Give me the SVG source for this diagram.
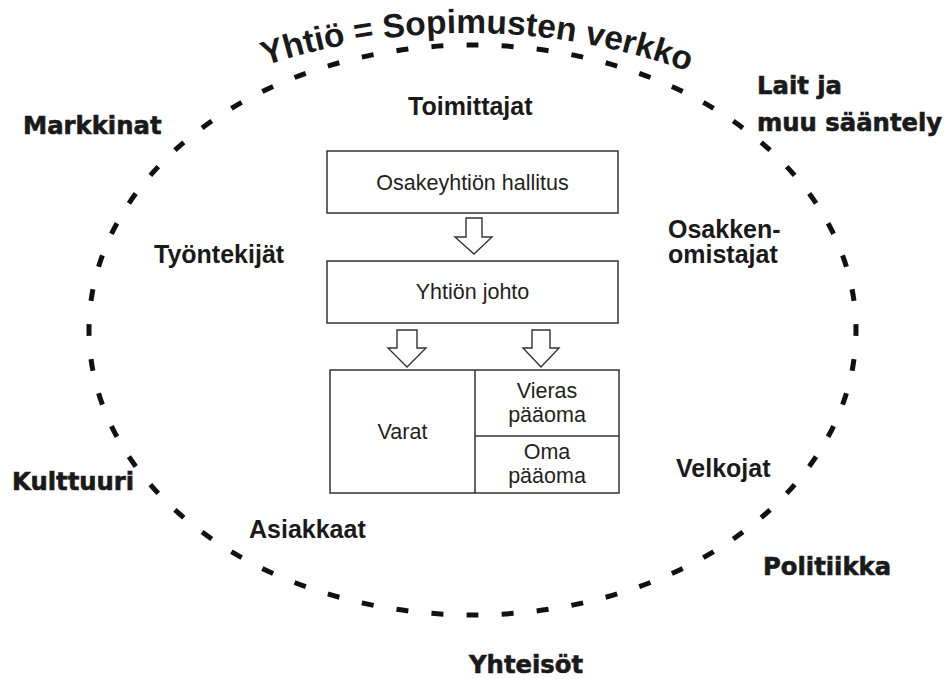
<svg xmlns="http://www.w3.org/2000/svg" width="947" height="679" viewBox="0 0 947 679">
<style>
.outer{font-family:"DejaVu Sans","Liberation Sans",sans-serif;font-weight:bold;font-size:24.3px;fill:#1a1a1a;stroke:#1a1a1a;stroke-width:0.6px}
.inner{font-family:"Liberation Sans",Arial,sans-serif;font-weight:bold;font-size:25px;fill:#1a1a1a}
.box{fill:#fff;stroke:#333;stroke-width:1.5}
.btxt{font-family:"Liberation Sans",Arial,sans-serif;font-size:21.5px;fill:#231f20;text-anchor:middle}
.arrow{fill:#fff;stroke:#333;stroke-width:1.4;stroke-linejoin:miter}
.title{font-family:"Liberation Sans",Arial,sans-serif;font-weight:bold;font-size:33.5px;fill:#1a1a1a}
</style>
<defs>
<path id="titleArc" d="M168,106.4 A650,650 0 0 1 768,106.4"/>
</defs>
<rect width="947" height="679" fill="#fff"/>
<g id="boundary">
<path d="M472.5,45 A383.5,285 0 1 1 472.5,615 A383.5,285 0 1 1 472.5,45 Z" pathLength="600" fill="none" stroke="#111" stroke-width="5" stroke-dasharray="3.4 6.6" stroke-dashoffset="1.7"/>
</g>
<g id="title">
<text class="title"><textPath href="#titleArc" startOffset="321" text-anchor="middle">Yhtiö = Sopimusten verkko</textPath></text>
</g>
<g id="outer-labels">
<text id="markkinat" class="outer" x="23" y="134">Markkinat</text>
<text id="lait" class="outer" x="757" y="94">Lait ja</text>
<text id="saantely" class="outer" x="757" y="131">muu sääntely</text>
<text id="kulttuuri" class="outer" x="12" y="490">Kulttuuri</text>
<text id="politiikka" class="outer" x="763" y="575">Politiikka</text>
<text id="yhteisot" class="outer" x="469" y="673">Yhteisöt</text>
</g>
<g id="inner-labels">
<text id="toimittajat" class="inner" x="408" y="115">Toimittajat</text>
<text id="tyontekijat" class="inner" x="154" y="263">Työntekijät</text>
<text id="osakken" class="inner" x="668" y="238">Osakken-</text>
<text id="omistajat" class="inner" x="668" y="263">omistajat</text>
<text id="asiakkaat" class="inner" x="249" y="538">Asiakkaat</text>
<text id="velkojat" class="inner" x="676" y="477">Velkojat</text>
</g>
<g id="hallitus">
<rect class="box" x="327" y="151" width="291" height="62"/>
<text class="btxt" x="472.5" y="190">Osakeyhtiön hallitus</text>
</g>
<g id="johto">
<rect class="box" x="327" y="261" width="291" height="62"/>
<text class="btxt" x="472.5" y="299">Yhtiön johto</text>
</g>
<g id="tase">
<rect class="box" x="330" y="370" width="289" height="123"/>
<line x1="475" y1="370" x2="475" y2="493" stroke="#333" stroke-width="1.5"/>
<line x1="475" y1="436" x2="619" y2="436" stroke="#333" stroke-width="1.5"/>
<text class="btxt" x="402.5" y="439">Varat</text>
<text class="btxt" x="547" y="398">Vieras<tspan x="547" y="422">pääoma</tspan></text>
<text class="btxt" x="547" y="459">Oma<tspan x="547" y="483">pääoma</tspan></text>
</g>
<g id="connectors">
<path class="arrow" d="M466,218 H482 V237 H492 L474,254 L455,237 H466 Z"/>
<path class="arrow" d="M397,330 H417 V348 H426 L407,367 L388,348 H397 Z"/>
<path class="arrow" d="M532,330 H550 V348 H559 L541,367 L523,348 H532 Z"/>
</g>
</svg>
